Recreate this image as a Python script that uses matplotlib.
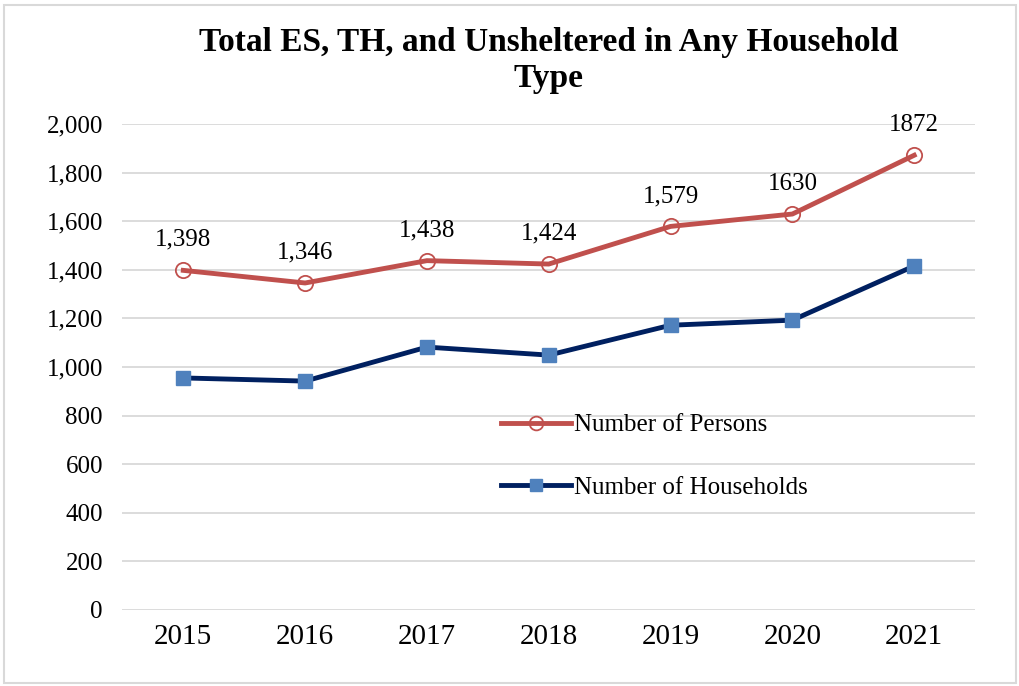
import numpy as np
import matplotlib.pyplot as plt

# Chart data
years = ['2015', '2016', '2017', '2018', '2019', '2020', '2021']
persons = [1398, 1346, 1438, 1424, 1579, 1630, 1872]
households = [955, 942, 1082, 1049, 1172, 1193, 1416]
person_labels = ['1,398', '1,346', '1,438', '1,424', '1,579', '1630', '1872']
y_ticks = [0, 200, 400, 600, 800, 1000, 1200, 1400, 1600, 1800, 2000]

plt.rcParams['font.family'] = ['Liberation Serif', 'DejaVu Serif']

fig = plt.figure(figsize=(10.2, 6.86), dpi=100)
ax = fig.add_axes([0.12, 0.111, 0.836, 0.708])

# light border around the whole chart
fig.patches.append(plt.Rectangle((0.004, 0.004), 0.992, 0.988, transform=fig.transFigure,
                                 fill=False, edgecolor='#d9d9d9', linewidth=1.5))

x = np.arange(len(years))
ax.plot(x, persons, color='#c0504d', linewidth=3.5, marker='o', markersize=11,
        markerfacecolor='none', markeredgecolor='#c0504d', markeredgewidth=1.3,
        label='Number of Persons', zorder=3)
ax.plot(x, households, color='#002060', linewidth=3.5, marker='s', markersize=10,
        markerfacecolor='#4f81bd', markeredgecolor='#4f81bd',
        label='Number of Households', zorder=3)

for xi, yi, lab in zip(x, persons, person_labels):
    ax.annotate(lab, (xi, yi), xytext=(0, 14), textcoords='offset points',
                ha='center', va='bottom', fontsize=18)

ax.set_xlim(-0.5, len(years) - 0.5)
ax.set_ylim(0, 2000)
ax.set_xticks(x)
ax.set_xticklabels(years, fontsize=21)
ax.set_yticks(y_ticks)
ax.set_yticklabels([f'{v:,}' for v in y_ticks], fontsize=18)
ax.tick_params(length=0)
ax.tick_params(axis='x', pad=10)
ax.tick_params(axis='y', pad=14)
ax.grid(axis='y', color='#d9d9d9', linewidth=1.3)
ax.set_axisbelow(True)
for s in ax.spines.values():
    s.set_visible(False)

ax.set_title('Total ES, TH, and Unsheltered in Any Household\nType',
             fontsize=24, fontweight='bold', pad=27, linespacing=1.2)

ax.legend(loc='upper left', bbox_to_anchor=(0.418, 0.45), frameon=False, fontsize=18,
          handlelength=2.8, handletextpad=0.1, labelspacing=1.6, markerscale=0.9)

fig.savefig('out.png', dpi=100)
